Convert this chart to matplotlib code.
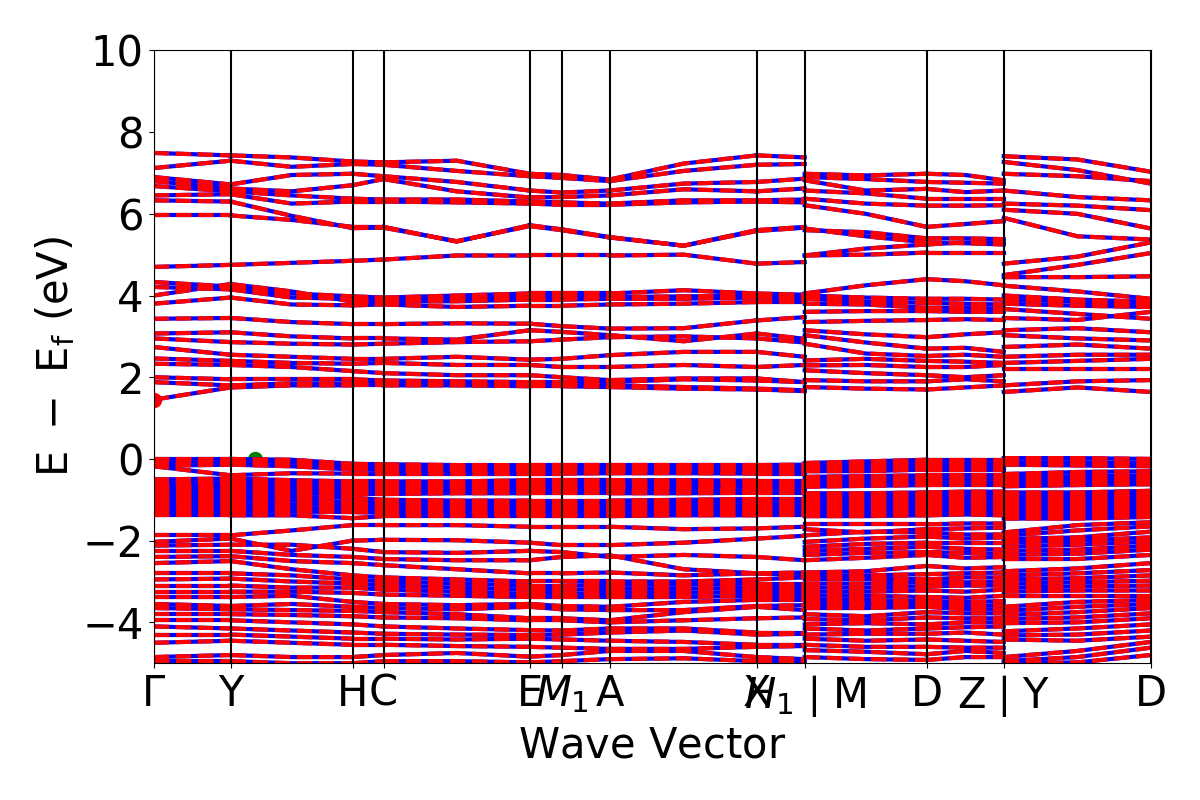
import numpy as np
import matplotlib
matplotlib.use("Agg")
import matplotlib.pyplot as plt

# posiciones en el camino k (tramo 1: Gamma..H1, tramo 2: M..Z, tramo 3: Y..D)
k_a = [0.00, 0.77, 1.38, 1.99, 2.30, 3.03, 3.76, 4.08, 4.56, 5.30, 6.03, 6.51]
k_b = [6.51, 7.12, 7.73, 8.115, 8.50]
k_c = [8.50, 9.235, 9.97]

tick_k = [0.00, 0.77, 1.99, 2.30, 3.76, 4.08, 4.56, 6.03, 6.51, 7.73, 8.50, 9.97]
tick_labels = [r"$\Gamma$", "Y", "H", "C", "E", r"$M_1$", "A", "X",
               r"$H_1$$\mid$M", "D", r"Z$\mid$Y", "D"]

# ramas entre puntos de alta simetria (indices de columna)
ramas_a = [(0, 1), (1, 3), (3, 4), (4, 6), (6, 7), (7, 8), (8, 10), (10, 11)]
ramas_b = [(0, 2), (2, 4)]
ramas_c = [(0, 2)]

# extremos de banda
vbm_k, vbm_e = 1.01, 0.0
cbm_k, cbm_e = 0.0, 1.45

# bandas de conduccion
cond_a = [
    [7.49, 7.43, 7.38, 7.28, 7.26, 7.30, 6.98, 6.95, 6.84, 7.23, 7.43, 7.38],
    [7.12, 7.30, 7.15, 7.22, 7.20, 7.05, 6.92, 6.88, 6.80, 7.05, 7.20, 7.22],
    [6.90, 6.72, 6.95, 6.98, 6.92, 6.78, 6.57, 6.52, 6.57, 6.74, 6.78, 6.86],
    [6.80, 6.62, 6.55, 6.70, 6.85, 6.55, 6.40, 6.41, 6.45, 6.60, 6.55, 6.62],
    [6.68, 6.55, 6.45, 6.37, 6.35, 6.35, 6.30, 6.28, 6.25, 6.33, 6.33, 6.35],
    [6.45, 6.48, 6.25, 6.30, 6.30, 6.28, 6.25, 6.22, 6.22, 6.28, 6.30, 6.28],
    [5.96, 5.96, 5.85, 5.68, 5.68, 5.32, 5.72, 5.62, 5.43, 5.22, 5.60, 5.68],
    [6.33, 6.30, 5.95, 5.65, 5.66, 5.33, 5.70, 5.60, 5.42, 5.22, 5.58, 5.66],
    [4.70, 4.75, 4.80, 4.85, 4.88, 4.98, 4.98, 4.98, 4.98, 5.00, 4.78, 4.82],
    [4.33, 4.22, 4.05, 3.98, 3.95, 4.00, 4.05, 4.05, 4.05, 4.13, 4.05, 4.02],
    [4.21, 4.15, 3.95, 3.92, 3.92, 3.93, 3.96, 3.96, 3.96, 3.98, 4.00, 3.97],
    [4.00, 4.28, 4.10, 3.85, 3.85, 3.86, 3.90, 3.90, 3.92, 3.92, 3.95, 3.93],
    [3.80, 3.95, 3.78, 3.76, 3.78, 3.72, 3.75, 3.75, 3.78, 3.80, 3.84, 3.84],
    [3.43, 3.45, 3.35, 3.30, 3.30, 3.32, 3.31, 3.25, 3.19, 3.20, 3.39, 3.47],
    [3.07, 3.10, 3.00, 2.95, 2.95, 2.92, 3.15, 3.11, 3.03, 2.88, 3.07, 2.94],
    [2.95, 2.86, 2.82, 2.80, 2.82, 2.86, 2.88, 2.92, 2.98, 3.00, 2.95, 2.85],
    [2.74, 2.55, 2.50, 2.45, 2.45, 2.50, 2.43, 2.45, 2.54, 2.62, 2.62, 2.50],
    [2.46, 2.40, 2.35, 2.33, 2.35, 2.30, 2.30, 2.25, 2.25, 2.30, 2.25, 2.30],
    [2.33, 2.30, 2.25, 2.15, 2.10, 2.05, 2.05, 2.00, 1.93, 1.97, 1.97, 1.88],
    [2.00, 1.95, 1.95, 1.95, 1.92, 1.90, 1.88, 1.88, 1.88, 1.95, 1.92, 1.88],
    [1.88, 1.80, 1.85, 1.85, 1.85, 1.82, 1.84, 1.80, 1.80, 1.76, 1.72, 1.68],
    [1.45, 1.75, 1.80, 1.80, 1.80, 1.80, 1.78, 1.78, 1.76, 1.72, 1.70, 1.66],
]
cond_b = [
    [6.98, 6.94, 6.98, 6.95, 6.82],
    [6.90, 6.85, 6.78, 6.76, 6.74],
    [6.82, 6.57, 6.61, 6.53, 6.57],
    [6.57, 6.50, 6.37, 6.37, 6.37],
    [6.37, 6.25, 6.20, 6.20, 6.21],
    [6.21, 6.00, 5.68, 5.75, 5.82],
    [5.64, 5.45, 5.30, 5.28, 5.25],
    [5.60, 5.55, 5.40, 5.40, 5.38],
    [4.98, 5.15, 5.25, 5.30, 5.30],
    [4.98, 5.00, 5.05, 5.05, 5.05],
    [4.05, 4.25, 4.40, 4.35, 4.25],
    [4.00, 3.95, 3.92, 3.92, 3.90],
    [3.92, 3.85, 3.82, 3.80, 3.78],
    [3.80, 3.78, 3.70, 3.70, 3.68],
    [3.60, 3.62, 3.62, 3.60, 3.60],
    [3.35, 3.38, 3.40, 3.42, 3.40],
    [3.15, 3.05, 2.98, 3.05, 3.10],
    [3.03, 2.85, 2.70, 2.72, 2.62],
    [2.82, 2.58, 2.52, 2.55, 2.50],
    [2.41, 2.45, 2.40, 2.38, 2.35],
    [2.29, 2.30, 2.25, 2.25, 2.30],
    [2.17, 2.10, 2.05, 2.00, 2.05],
    [1.93, 1.90, 1.90, 1.95, 1.90],
    [1.76, 1.72, 1.70, 1.75, 1.80],
]
cond_c = [
    [7.41, 7.33, 7.03], [7.27, 7.07, 6.74], [6.98, 6.92, 6.80],
    [6.57, 6.41, 6.33], [6.25, 6.20, 6.09], [6.10, 6.00, 5.64],
    [5.90, 5.45, 5.37], [4.78, 4.95, 5.30], [4.50, 4.75, 5.04],
    [4.45, 4.45, 4.47], [4.24, 4.10, 3.92], [4.00, 3.90, 3.85],
    [3.90, 3.85, 3.78], [3.80, 3.75, 3.72], [3.67, 3.55, 3.43],
    [3.45, 3.40, 3.60], [3.15, 3.20, 3.10], [3.03, 2.95, 2.90],
    [2.74, 2.80, 2.70], [2.50, 2.55, 2.55], [2.35, 2.40, 2.45],
    [2.20, 2.20, 2.20], [1.80, 1.90, 1.93], [1.64, 1.75, 1.64],
]

# bandas de valencia
val_a = [
    [0.00, 0.00, -0.02, -0.12, -0.13, -0.15, -0.15, -0.15, -0.15, -0.15, -0.15, -0.14],
    [-0.08, -0.06, -0.10, -0.19, -0.20, -0.21, -0.21, -0.21, -0.21, -0.21, -0.21, -0.21],
    [-0.17, -0.14, -0.18, -0.26, -0.27, -0.27, -0.28, -0.28, -0.27, -0.27, -0.27, -0.27],
    [-0.18, -0.40, -0.35, -0.36, -0.36, -0.36, -0.36, -0.36, -0.35, -0.35, -0.36, -0.36],
    [-0.50, -0.48, -0.52, -0.55, -0.55, -0.55, -0.52, -0.52, -0.52, -0.52, -0.53, -0.53],
    [-0.58, -0.57, -0.60, -0.62, -0.62, -0.60, -0.60, -0.60, -0.60, -0.60, -0.60, -0.60],
    [-0.66, -0.66, -0.68, -0.70, -0.70, -0.68, -0.68, -0.68, -0.68, -0.68, -0.68, -0.68],
    [-0.75, -0.75, -0.76, -0.78, -0.78, -0.76, -0.76, -0.76, -0.76, -0.76, -0.75, -0.75],
    [-0.84, -0.84, -0.84, -0.86, -0.86, -0.84, -0.84, -0.84, -0.84, -0.84, -0.83, -0.83],
    [-0.93, -0.93, -0.93, -0.95, -1.00, -1.02, -1.02, -1.02, -1.02, -1.00, -0.98, -0.98],
    [-1.02, -1.02, -1.02, -1.05, -1.08, -1.10, -1.10, -1.10, -1.10, -1.08, -1.06, -1.06],
    [-1.11, -1.11, -1.11, -1.13, -1.16, -1.18, -1.18, -1.18, -1.18, -1.16, -1.14, -1.14],
    [-1.20, -1.20, -1.20, -1.22, -1.24, -1.26, -1.26, -1.26, -1.26, -1.24, -1.22, -1.22],
    [-1.29, -1.29, -1.29, -1.30, -1.32, -1.33, -1.33, -1.33, -1.33, -1.32, -1.30, -1.30],
    [-1.38, -1.38, -1.38, -1.45, -1.40, -1.40, -1.40, -1.40, -1.40, -1.38, -1.38, -1.38],
    [-1.87, -1.87, -1.75, -1.62, -1.62, -1.62, -1.66, -1.66, -1.66, -1.72, -1.70, -1.66],
    [-2.03, -1.95, -2.25, -2.00, -1.98, -1.99, -2.05, -2.11, -2.11, -2.05, -1.95, -1.88],
    [-2.12, -2.10, -2.10, -2.20, -2.28, -2.30, -2.25, -2.28, -2.40, -2.35, -2.40, -2.48],
    [-2.25, -2.25, -2.35, -2.40, -2.45, -2.48, -2.48, -2.40, -2.36, -2.70, -2.80, -2.85],
    [-2.40, -2.38, -2.50, -2.55, -2.60, -2.70, -2.80, -2.80, -2.78, -2.85, -2.80, -2.78],
    [-2.55, -2.50, -2.70, -2.85, -2.90, -2.95, -3.00, -3.00, -3.00, -3.00, -2.95, -2.90],
    [-2.80, -2.80, -2.85, -2.95, -3.00, -3.05, -3.10, -3.10, -3.08, -3.08, -3.05, -3.05],
    [-2.95, -2.93, -3.00, -3.05, -3.10, -3.15, -3.20, -3.20, -3.18, -3.18, -3.15, -3.15],
    [-3.10, -3.10, -3.15, -3.15, -3.20, -3.25, -3.30, -3.30, -3.28, -3.28, -3.25, -3.25],
    [-3.25, -3.25, -3.25, -3.28, -3.32, -3.35, -3.38, -3.38, -3.38, -3.38, -3.35, -3.35],
    [-3.38, -3.38, -3.35, -3.50, -3.55, -3.58, -3.55, -3.60, -3.62, -3.50, -3.45, -3.45],
    [-3.55, -3.60, -3.55, -3.62, -3.65, -3.68, -3.62, -3.68, -3.70, -3.70, -3.60, -3.58],
    [-3.65, -3.68, -3.70, -3.72, -3.75, -3.80, -3.90, -3.90, -3.95, -3.75, -3.62, -3.70],
    [-3.80, -3.80, -3.82, -3.85, -3.88, -3.90, -3.95, -3.95, -4.00, -3.95, -3.90, -3.88],
    [-3.95, -3.95, -4.00, -4.05, -4.10, -4.15, -4.19, -4.20, -4.15, -4.15, -4.25, -4.25],
    [-4.10, -4.15, -4.20, -4.25, -4.28, -4.30, -4.31, -4.30, -4.25, -4.20, -4.30, -4.28],
    [-4.30, -4.30, -4.35, -4.40, -4.40, -4.42, -4.40, -4.42, -4.45, -4.48, -4.55, -4.55],
    [-4.50, -4.45, -4.50, -4.55, -4.55, -4.58, -4.60, -4.62, -4.65, -4.65, -4.60, -4.58],
    [-4.85, -4.80, -4.85, -4.85, -4.80, -4.75, -4.84, -4.80, -4.70, -4.70, -4.85, -4.90],
    [-4.95, -4.95, -5.00, -5.00, -4.95, -4.95, -4.98, -4.95, -4.90, -4.88, -4.95, -4.98],
]
val_b = [
    [-0.10, -0.06, -0.02, -0.02, -0.02],
    [-0.18, -0.14, -0.10, -0.10, -0.10],
    [-0.26, -0.22, -0.18, -0.18, -0.18],
    [-0.30, -0.30, -0.26, -0.26, -0.26],
    [-0.44, -0.42, -0.40, -0.40, -0.40],
    [-0.52, -0.50, -0.48, -0.48, -0.48],
    [-0.60, -0.58, -0.56, -0.56, -0.56],
    [-0.68, -0.66, -0.64, -0.64, -0.64],
    [-0.84, -0.84, -0.82, -0.80, -0.80],
    [-0.92, -0.92, -0.90, -0.88, -0.88],
    [-1.00, -1.00, -0.98, -0.96, -0.96],
    [-1.08, -1.08, -1.06, -1.04, -1.04],
    [-1.16, -1.16, -1.14, -1.12, -1.12],
    [-1.24, -1.24, -1.22, -1.20, -1.20],
    [-1.32, -1.32, -1.30, -1.28, -1.28],
    [-1.40, -1.40, -1.38, -1.36, -1.38],
    [-1.60, -1.60, -1.60, -1.58, -1.58],
    [-1.72, -1.80, -1.72, -1.70, -1.68],
    [-1.87, -1.78, -1.80, -1.85, -1.85],
    [-2.03, -1.95, -1.90, -1.95, -1.92],
    [-2.15, -2.08, -2.05, -2.05, -2.05],
    [-2.25, -2.20, -2.15, -2.20, -2.22],
    [-2.35, -2.30, -2.28, -2.30, -2.32],
    [-2.48, -2.42, -2.35, -2.42, -2.40],
    [-2.78, -2.75, -2.62, -2.68, -2.65],
    [-2.86, -2.85, -2.82, -2.80, -2.78],
    [-2.95, -2.95, -2.95, -2.90, -2.90],
    [-3.05, -3.05, -3.02, -3.02, -3.00],
    [-3.15, -3.15, -3.12, -3.10, -3.10],
    [-3.25, -3.25, -3.22, -3.25, -3.20],
    [-3.35, -3.35, -3.38, -3.40, -3.35],
    [-3.45, -3.45, -3.48, -3.50, -3.48],
    [-3.55, -3.55, -3.55, -3.60, -3.58],
    [-3.65, -3.65, -3.62, -3.68, -3.68],
    [-3.80, -3.85, -3.75, -3.78, -3.78],
    [-3.92, -3.95, -3.88, -3.90, -3.90],
    [-4.05, -4.02, -4.05, -4.00, -4.00],
    [-4.15, -4.20, -4.15, -4.12, -4.10],
    [-4.30, -4.28, -4.28, -4.25, -4.30],
    [-4.40, -4.45, -4.42, -4.45, -4.48],
    [-4.55, -4.60, -4.60, -4.62, -4.62],
    [-4.68, -4.72, -4.78, -4.70, -4.75],
    [-4.85, -4.90, -4.92, -4.85, -4.85],
]
val_c = [
    [0.02, 0.02, 0.00], [-0.08, -0.08, -0.10], [-0.14, -0.16, -0.18],
    [-0.37, -0.32, -0.30], [-0.45, -0.42, -0.40], [-0.53, -0.50, -0.48],
    [-0.61, -0.58, -0.56], [-0.67, -0.64, -0.62], [-0.82, -0.82, -0.78],
    [-0.90, -0.90, -0.86], [-0.98, -0.98, -0.94], [-1.06, -1.06, -1.02],
    [-1.14, -1.14, -1.10], [-1.22, -1.22, -1.18], [-1.30, -1.30, -1.26],
    [-1.38, -1.38, -1.34], [-1.46, -1.46, -1.42],
    [-1.80, -1.62, -1.55], [-1.88, -1.75, -1.65], [-1.96, -1.92, -1.78],
    [-2.05, -2.00, -1.92], [-2.15, -2.10, -2.02], [-2.25, -2.22, -2.12],
    [-2.35, -2.32, -2.22], [-2.45, -2.45, -2.35], [-2.75, -2.68, -2.55],
    [-2.85, -2.80, -2.72], [-2.95, -2.92, -2.85], [-3.05, -3.02, -2.98],
    [-3.15, -3.12, -3.10], [-3.25, -3.22, -3.22], [-3.35, -3.35, -3.35],
    [-3.62, -3.50, -3.45], [-3.72, -3.62, -3.55], [-3.82, -3.75, -3.65],
    [-3.92, -3.88, -3.78], [-4.02, -4.00, -3.90], [-4.22, -4.15, -4.05],
    [-4.32, -4.30, -4.20], [-4.42, -4.45, -4.35], [-4.85, -4.70, -4.48],
    [-4.95, -4.85, -4.62], [-5.00, -4.98, -4.80],
]

tramos = [
    (k_a, cond_a + val_a, ramas_a),
    (k_b, cond_b + val_b, ramas_b),
    (k_c, cond_c + val_c, ramas_c),
]

fig = plt.figure(figsize=(12, 8), dpi=100)
ax = fig.add_axes([0.128, 0.171, 0.831, 0.766])

# marcadores VBM / CBM (debajo de las bandas)
ax.scatter([vbm_k], [vbm_e], color="g", marker="o", s=100)
ax.scatter([cbm_k], [cbm_e], color="r", marker="o", s=100)

# espin arriba (azul continuo) y espin abajo (rojo discontinuo)
for estilo in ["b-", "r--"]:
    for k, bandas, ramas in tramos:
        k = np.array(k)
        for banda in bandas:
            e = np.array(banda)
            for i0, i1 in ramas:
                ax.plot(k[i0:i1 + 1], e[i0:i1 + 1], estilo, linewidth=3)

for x in tick_k:
    ax.axvline(x, color="k", linewidth=1.5)

ax.set_xticks(tick_k)
ax.set_xticklabels(tick_labels)
ax.set_xlim(tick_k[0], tick_k[-1])
ax.set_ylim(-5, 10)
ax.set_yticks(np.arange(-4, 11, 2))
ax.tick_params(labelsize=30)
ax.set_xlabel(r"$\mathrm{Wave\ Vector}$", fontsize=30)
ax.set_ylabel(r"$\mathrm{E\ -\ E_f\ (eV)}$", fontsize=30)

fig.savefig("out.png", dpi=100)
